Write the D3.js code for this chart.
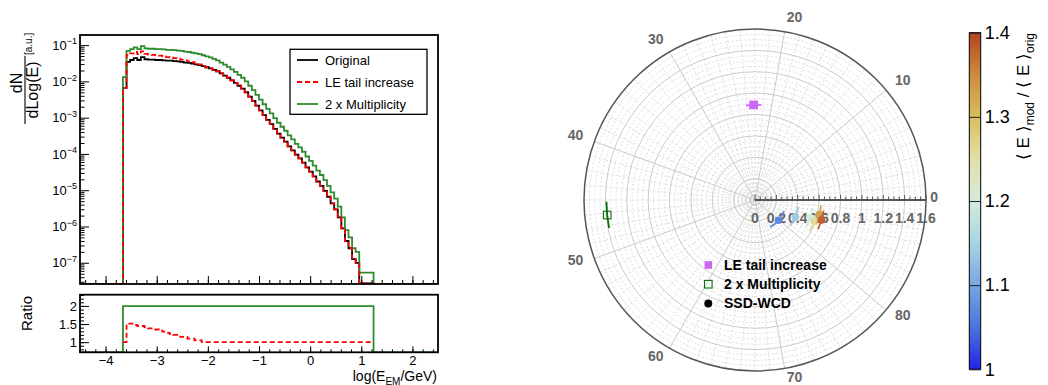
<!DOCTYPE html>
<html>
<head>
<meta charset="utf-8">
<script src="https://cdn.jsdelivr.net/npm/d3@7"></script>
<style>
  body { margin: 0; background: #fff; }
  svg { font-family: "Liberation Sans", Arial, Helvetica, sans-serif; }
</style>
</head>
<body>
<svg id="chart" width="1048" height="385"></svg>
<script>
// ---------------- data ----------------
// histogram binning in log(E_EM/GeV)
var binLow = -3.66, binWidth = 0.07;

// log10 of dN/dLog(E), one value per bin
var originalLog = [-2.18,-1.46,-1.41,-1.36,-1.41,-1.33,-1.39,-1.40,-1.40,-1.41,
  -1.41,-1.42,-1.43,-1.43,-1.44,-1.45,-1.46,-1.48,-1.49,-1.51,
  -1.53,-1.55,-1.58,-1.61,-1.64,-1.68,-1.72,-1.78,-1.84,-1.90,
  -1.97,-2.04,-2.12,-2.20,-2.30,-2.42,-2.54,-2.67,-2.80,-2.93,
  -3.06,-3.18,-3.31,-3.44,-3.55,-3.66,-3.79,-3.90,-4.02,-4.12,
  -4.24,-4.37,-4.49,-4.62,-4.76,-4.88,-5.02,-5.18,-5.36,-5.53,
  -5.75,-6.05,-6.40,-6.60,-6.90,-7.00,-7.57,-7.57,-7.57,-7.57];

var tailLog = [-2.18,-1.28,-1.23,-1.19,-1.25,-1.17,-1.24,-1.26,-1.27,-1.28,
  -1.29,-1.31,-1.33,-1.34,-1.36,-1.37,-1.40,-1.42,-1.45,-1.47,
  -1.51,-1.53,-1.58,-1.61,-1.64,-1.68,-1.72,-1.78,-1.84,-1.90,
  -1.97,-2.04,-2.12,-2.20,-2.30,-2.42,-2.54,-2.67,-2.80,-2.93,
  -3.06,-3.18,-3.31,-3.44,-3.55,-3.66,-3.79,-3.90,-4.02,-4.12,
  -4.24,-4.37,-4.49,-4.62,-4.76,-4.88,-5.02,-5.18,-5.36,-5.53,
  -5.75,-6.05,-6.40,-6.60,-6.90,-7.00,-7.57,-7.57,-7.57,-7.57];

var multLog = [-1.88,-1.16,-1.11,-1.06,-1.11,-1.03,-1.09,-1.10,-1.10,-1.11,
  -1.11,-1.12,-1.13,-1.13,-1.14,-1.15,-1.16,-1.18,-1.19,-1.21,
  -1.23,-1.25,-1.28,-1.31,-1.34,-1.38,-1.42,-1.48,-1.54,-1.60,
  -1.67,-1.74,-1.82,-1.90,-2.00,-2.12,-2.24,-2.37,-2.50,-2.63,
  -2.76,-2.88,-3.01,-3.14,-3.25,-3.36,-3.49,-3.60,-3.72,-3.82,
  -3.94,-4.07,-4.19,-4.32,-4.46,-4.58,-4.72,-4.88,-5.06,-5.23,
  -5.45,-5.75,-6.10,-6.30,-6.60,-6.70,-7.27,-7.27,-7.27,-7.27];

var seriesNames = ["Original", "LE tail increase", "2 x Multiplicity"];
var seriesColors = ["#000000", "#ff0000", "#2e8b2e"];

var yMajorTicks = [1e-7, 1e-6, 1e-5, 1e-4, 1e-3, 1e-2, 1e-1];
var xMajorTicks = [-4, -3, -2, -1, 0, 1, 2];
var ratioTicks = [1, 1.5, 2];

// polar plot
var radialTicks = [0, 0.2, 0.4, 0.6, 0.8, 1, 1.2, 1.4, 1.6];
var angleTicks = [0, 10, 20, 30, 40, 50, 60, 70, 80];

var modelNames = ["LE tail increase", "2 x Multiplicity"];
var modelR = [0.89, 1.39];
var modelPhi = [22.7, 46.45];
var modelPhiErr = [1.16, 1.28];
var modelColors = ["#c966f2", "#0b6e0b"];

var ssdR = [0.29, 0.41, 0.54, 0.59, 0.62, 0.65];
var ssdPhi = [79.8, 84.4, 85.5, 85.0, 86.8, 85.8];
var ssdPhiErr = [5.0, 3.3, 2.5, 2.5, 2.0, 2.0];
var ssdRatio = [1.07, 1.14, 1.20, 1.26, 1.33, 1.38];

// colour palette of <E>mod/<E>orig
var paletteStops = [1.00, 1.05, 1.10, 1.15, 1.20, 1.25, 1.30, 1.35, 1.40];
var paletteColors = ["#2424e6", "#4b74dc", "#78a6e2", "#a6d4e2", "#d4ebdc",
                     "#e2e0a8", "#d8be5e", "#cc8c3e", "#b54222"];
var colorTicks = [1, 1.1, 1.2, 1.3, 1.4];

// ---------------- setup ----------------
var svg = d3.select("#chart");
var defs = svg.append("defs");

var x = d3.scaleLinear().domain([-4.5, 2.5]).range([80, 438]);
var y = d3.scaleLog().domain([2.6e-8, 0.19]).range([284, 35]);
var yR = d3.scaleLinear().domain([0.72, 2.31]).range([352.3, 294.7]);

defs.append("clipPath").attr("id", "clipTop").append("rect")
  .attr("x", 80).attr("y", 35).attr("width", 358).attr("height", 249);
defs.append("clipPath").attr("id", "clipRatio").append("rect")
  .attr("x", 80).attr("y", 294.7).attr("width", 358).attr("height", 57.6);

function binEdge(i) { return binLow + i * binWidth; }

// step path for a histogram, empty bins sit on the bottom edge
function stepPath(vals, ys, yBottom, fillOutside) {
  var p = "";
  if (fillOutside) p = "M" + x.range()[0] + "," + yBottom + "H" + x(binEdge(0));
  else p = "M" + x(binEdge(0)) + "," + ys(vals[0]);
  vals.forEach(function(v, i) {
    p += "V" + ys(v) + "H" + x(binEdge(i + 1));
  });
  if (fillOutside) p += "V" + yBottom + "H" + x.range()[1];
  return p;
}

// ---------------- top panel ----------------
var topG = svg.append("g");
var histG = topG.append("g").attr("clip-path", "url(#clipTop)");

// draw original, then 2x multiplicity, then the dashed LE tail on top
var histList = [[originalLog, 0], [multLog, 2], [tailLog, 1]];
histList.forEach(function(h) {
  var vals = h[0].map(function(v) { return Math.pow(10, v); });
  histG.append("path")
    .attr("d", stepPath(vals, y, 284, true))
    .attr("fill", "none")
    .attr("stroke", seriesColors[h[1]])
    .attr("stroke-width", 1.8)
    .attr("stroke-dasharray", h[1] === 1 ? "5,3" : null);
});

// log minor ticks
var yMinorTicks = [];
for (var e = -8; e <= -1; e++) {
  for (var mm = 2; mm <= 9; mm++) {
    var v = mm * Math.pow(10, e);
    if (v > y.domain()[0] && v < y.domain()[1]) yMinorTicks.push(v);
  }
}

topG.append("g").attr("transform", "translate(80,0)")
  .call(d3.axisLeft(y).tickValues(yMinorTicks).tickSize(-4.5).tickFormat(""))
  .call(function(g) { g.select(".domain").remove(); });

var yAxisTop = topG.append("g").attr("transform", "translate(80,0)")
  .call(d3.axisLeft(y).tickValues(yMajorTicks).tickSize(-9).tickPadding(3).tickFormat(""));
yAxisTop.select(".domain").remove();
yAxisTop.selectAll(".tick text")
  .attr("font-size", 13).attr("fill", "#000")
  .each(function(d) {
    var t = d3.select(this);
    t.text("10");
    t.append("tspan").attr("dy", -5.5).attr("font-size", 9)
      .text("\u2212" + Math.round(-Math.log10(d)));
  });

topG.append("g").attr("transform", "translate(0,284)")
  .call(d3.axisBottom(x).tickValues(d3.range(-22, 13).map(function(k) { return k * 0.2; })).tickSize(-4).tickFormat(""))
  .call(function(g) { g.select(".domain").remove(); });
topG.append("g").attr("transform", "translate(0,284)")
  .call(d3.axisBottom(x).tickValues(xMajorTicks).tickSize(-8).tickFormat(""))
  .call(function(g) { g.select(".domain").remove(); });

topG.append("rect").attr("x", 80).attr("y", 35).attr("width", 358).attr("height", 249)
  .attr("fill", "none").attr("stroke", "#000").attr("stroke-width", 1.8);

// y title: dN / dLog(E)  [a.u.]
var yTitle = topG.append("g");
yTitle.append("text").attr("transform", "translate(22,83) rotate(-90)")
  .attr("text-anchor", "middle").attr("font-size", 16).text("dN");
yTitle.append("line").attr("x1", 25).attr("x2", 25).attr("y1", 124).attr("y2", 56)
  .attr("stroke", "#000").attr("stroke-width", 1.1);
yTitle.append("text").attr("transform", "translate(38,90) rotate(-90)")
  .attr("text-anchor", "middle").attr("font-size", 16).text("dLog(E)");
yTitle.append("text").attr("transform", "translate(32,55) rotate(-90)")
  .attr("text-anchor", "start").attr("font-size", 10).text("[a.u.]");

// legend
var leg = topG.append("g");
leg.append("rect").attr("x", 290).attr("y", 49.3).attr("width", 137).attr("height", 65)
  .attr("fill", "#fff").attr("stroke", "#000").attr("stroke-width", 1.3);
seriesNames.forEach(function(name, i) {
  var yy = 60 + i * 22;
  leg.append("line").attr("x1", 297).attr("x2", 318).attr("y1", yy).attr("y2", yy)
    .attr("stroke", seriesColors[i]).attr("stroke-width", 1.8)
    .attr("stroke-dasharray", i === 1 ? "5,3" : null);
  leg.append("text").attr("x", 325).attr("y", yy).attr("dy", "0.35em")
    .attr("font-size", 13).text(name);
});

// ---------------- ratio panel ----------------
var ratioG = svg.append("g");
var ratioLines = ratioG.append("g").attr("clip-path", "url(#clipRatio)");

var ratioMult = multLog.map(function(v, i) { return Math.pow(10, v - originalLog[i]); });
var ratioTail = tailLog.map(function(v, i) { return Math.pow(10, v - originalLog[i]); });

ratioLines.append("path").attr("d", stepPath(ratioMult, yR, 352.3, true))
  .attr("fill", "none").attr("stroke", seriesColors[2]).attr("stroke-width", 1.8);
ratioLines.append("path").attr("d", stepPath(ratioTail, yR, 352.3, false))
  .attr("fill", "none").attr("stroke", seriesColors[1]).attr("stroke-width", 1.8)
  .attr("stroke-dasharray", "5,3");

ratioG.append("g").attr("transform", "translate(80,0)")
  .call(d3.axisLeft(yR).tickValues(d3.range(8, 24).map(function(k) { return k / 10; })).tickSize(-4).tickFormat(""))
  .call(function(g) { g.select(".domain").remove(); });
var yAxisR = ratioG.append("g").attr("transform", "translate(80,0)")
  .call(d3.axisLeft(yR).tickValues(ratioTicks).tickSize(-9).tickPadding(3).tickFormat(d3.format("~g")));
yAxisR.select(".domain").remove();
yAxisR.selectAll(".tick text").attr("font-size", 13).attr("fill", "#000");

ratioG.append("g").attr("transform", "translate(0,352.3)")
  .call(d3.axisBottom(x).tickValues(d3.range(-22, 13).map(function(k) { return k * 0.2; })).tickSize(-3).tickFormat(""))
  .call(function(g) { g.select(".domain").remove(); });
var xAxisR = ratioG.append("g").attr("transform", "translate(0,352.3)")
  .call(d3.axisBottom(x).tickValues(xMajorTicks).tickSize(-6).tickPadding(3)
    .tickFormat(function(d) { return d < 0 ? "\u2212" + (-d) : String(d); }));
xAxisR.select(".domain").remove();
xAxisR.selectAll(".tick text").attr("font-size", 13).attr("fill", "#000");

ratioG.append("rect").attr("x", 80).attr("y", 294.7).attr("width", 358).attr("height", 57.6)
  .attr("fill", "none").attr("stroke", "#000").attr("stroke-width", 1.8);

ratioG.append("text").attr("transform", "translate(32,313.5) rotate(-90)")
  .attr("text-anchor", "middle").attr("font-size", 15).text("Ratio");

var xTitle = ratioG.append("text").attr("x", 437).attr("y", 380.5)
  .attr("text-anchor", "end").attr("font-size", 14);
xTitle.append("tspan").text("log(E");
xTitle.append("tspan").attr("dy", 4).attr("font-size", 10).text("EM");
xTitle.append("tspan").attr("dy", -4).text("/GeV)");

// ---------------- polar plot ----------------
var cx = 755, cy = 200, R = 171;
var rP = d3.scaleLinear().domain([0, 1.6]).range([0, R]);
var aP = d3.scaleLinear().domain([0, 90]).range([0, 2 * Math.PI]);
function px(r, phi) { return cx + rP(r) * Math.cos(aP(phi)); }
function py(r, phi) { return cy - rP(r) * Math.sin(aP(phi)); }

var polar = svg.append("g");

// minor grid
d3.range(1, 32).forEach(function(k) {
  if (k % 4 === 0) return;
  polar.append("circle").attr("cx", cx).attr("cy", cy).attr("r", rP(k * 0.05))
    .attr("fill", "none").attr("stroke", "#cfcfcf").attr("stroke-width", 0.7)
    .attr("stroke-dasharray", "2,2");
});
d3.range(0, 72).forEach(function(k) {
  if (k % 8 === 0) return;
  var phi = k * 1.25;
  polar.append("line").attr("x1", cx).attr("y1", cy)
    .attr("x2", px(1.6, phi)).attr("y2", py(1.6, phi))
    .attr("stroke", "#cfcfcf").attr("stroke-width", 0.7).attr("stroke-dasharray", "2,2");
});
// major grid
radialTicks.slice(1, -1).forEach(function(r) {
  polar.append("circle").attr("cx", cx).attr("cy", cy).attr("r", rP(r))
    .attr("fill", "none").attr("stroke", "#c4c4c4").attr("stroke-width", 0.9);
});
angleTicks.forEach(function(phi) {
  polar.append("line").attr("x1", cx).attr("y1", cy)
    .attr("x2", px(1.6, phi)).attr("y2", py(1.6, phi))
    .attr("stroke", "#c4c4c4").attr("stroke-width", 0.9);
});
polar.append("circle").attr("cx", cx).attr("cy", cy).attr("r", R)
  .attr("fill", "none").attr("stroke", "#555").attr("stroke-width", 1.5);

// radial axis along phi = 0
polar.append("line").attr("x1", cx).attr("y1", cy).attr("x2", cx + R).attr("y2", cy)
  .attr("stroke", "#555").attr("stroke-width", 1.8);
d3.range(0, 33).forEach(function(k) {
  var xx = cx + rP(k * 0.05);
  polar.append("line").attr("x1", xx).attr("x2", xx).attr("y1", cy).attr("y2", cy - (k % 4 === 0 ? 5 : 3.5))
    .attr("stroke", "#555").attr("stroke-width", 1);
});
radialTicks.forEach(function(r) {
  polar.append("text").attr("x", cx + rP(r)).attr("y", 218).attr("dy", "0.35em")
    .attr("text-anchor", "middle").attr("font-size", 14).attr("font-weight", "bold")
    .attr("fill", "#666").text(d3.format("~g")(r));
});
// angular labels: right half left-aligned, left half right-aligned
angleTicks.forEach(function(phi) {
  var lr = phi === 0 ? 1.64 : 1.71;
  var c = Math.cos(aP(phi));
  polar.append("text").attr("x", px(lr, phi)).attr("y", py(lr, phi) - 2.5).attr("dy", "0.35em")
    .attr("text-anchor", c > 0.01 ? "start" : "end").attr("font-size", 14).attr("font-weight", "bold")
    .attr("fill", "#666").text(phi);
});

var cScale = d3.scaleLinear().domain(paletteStops).range(paletteColors).clamp(true);

function errArc(r, phi, err) {
  var p = d3.path();
  p.arc(cx, cy, rP(r), -aP(phi + err), -aP(phi - err), false);
  return p.toString();
}

// SSD-WCD points
ssdR.forEach(function(r, i) {
  var col = cScale(ssdRatio[i]);
  polar.append("path").attr("d", errArc(r, ssdPhi[i], ssdPhiErr[i]))
    .attr("fill", "none").attr("stroke", col).attr("stroke-width", 1.8);
  polar.append("circle").attr("cx", px(r, ssdPhi[i])).attr("cy", py(r, ssdPhi[i])).attr("r", 3.8)
    .attr("fill", col);
});

// model variations
modelR.forEach(function(r, i) {
  var col = modelColors[i];
  polar.append("path").attr("d", errArc(r, modelPhi[i], modelPhiErr[i]))
    .attr("fill", "none").attr("stroke", col).attr("stroke-width", 1.8);
  polar.append("rect").attr("x", px(r, modelPhi[i]) - 3.8).attr("y", py(r, modelPhi[i]) - 3.8)
    .attr("width", 7.6).attr("height", 7.6)
    .attr("fill", i === 0 ? col : "none").attr("stroke", col).attr("stroke-width", 1.1);
});

// polar legend
var pLeg = polar.append("g");
var legNames = modelNames.concat(["SSD-WCD"]);
legNames.forEach(function(name, i) {
  var yy = 265 + i * 19.2;
  if (i === 0) pLeg.append("rect").attr("x", 704.5).attr("y", yy - 3.8).attr("width", 7.6).attr("height", 7.6).attr("fill", modelColors[0]);
  if (i === 1) pLeg.append("rect").attr("x", 704.5).attr("y", yy - 3.8).attr("width", 7.6).attr("height", 7.6)
    .attr("fill", "none").attr("stroke", modelColors[1]).attr("stroke-width", 1.1);
  if (i === 2) pLeg.append("circle").attr("cx", 708.3).attr("cy", yy).attr("r", 4).attr("fill", "#000");
  pLeg.append("text").attr("x", 724).attr("y", yy).attr("dy", "0.35em")
    .attr("font-size", 14).attr("font-weight", "bold").text(name);
});

// ---------------- colour bar ----------------
var cbY = d3.scaleLinear().domain([1, 1.4]).range([369.3, 32.7]);
var grad = defs.append("linearGradient").attr("id", "palette")
  .attr("x1", 0).attr("y1", 1).attr("x2", 0).attr("y2", 0);
paletteStops.forEach(function(s, i) {
  grad.append("stop").attr("offset", (s - 1) / 0.4).attr("stop-color", paletteColors[i]);
});
svg.append("rect").attr("x", 969.3).attr("y", 32.7).attr("width", 11.4).attr("height", 336.6)
  .attr("fill", "url(#palette)").attr("stroke", "#000").attr("stroke-width", 1);

var cbAxis = svg.append("g").attr("transform", "translate(980.7,0)")
  .call(d3.axisRight(cbY).tickValues(colorTicks).tickSize(-11.4).tickPadding(4)
    .tickFormat(d3.format("~g")));
cbAxis.select(".domain").remove();
cbAxis.selectAll(".tick line").attr("stroke", "#222");
cbAxis.selectAll(".tick text").attr("font-size", 18).attr("fill", "#000");

var cbTitle = svg.append("text").attr("transform", "translate(1029,33) rotate(-90)")
  .attr("text-anchor", "end").attr("font-size", 17);
cbTitle.append("tspan").text("\u27E8 E \u27E9");
cbTitle.append("tspan").attr("dy", 5).attr("font-size", 12).text("mod");
cbTitle.append("tspan").attr("dy", -5).text(" / \u27E8 E \u27E9");
cbTitle.append("tspan").attr("dy", 5).attr("font-size", 12).text("orig");
</script>
</body>
</html>
